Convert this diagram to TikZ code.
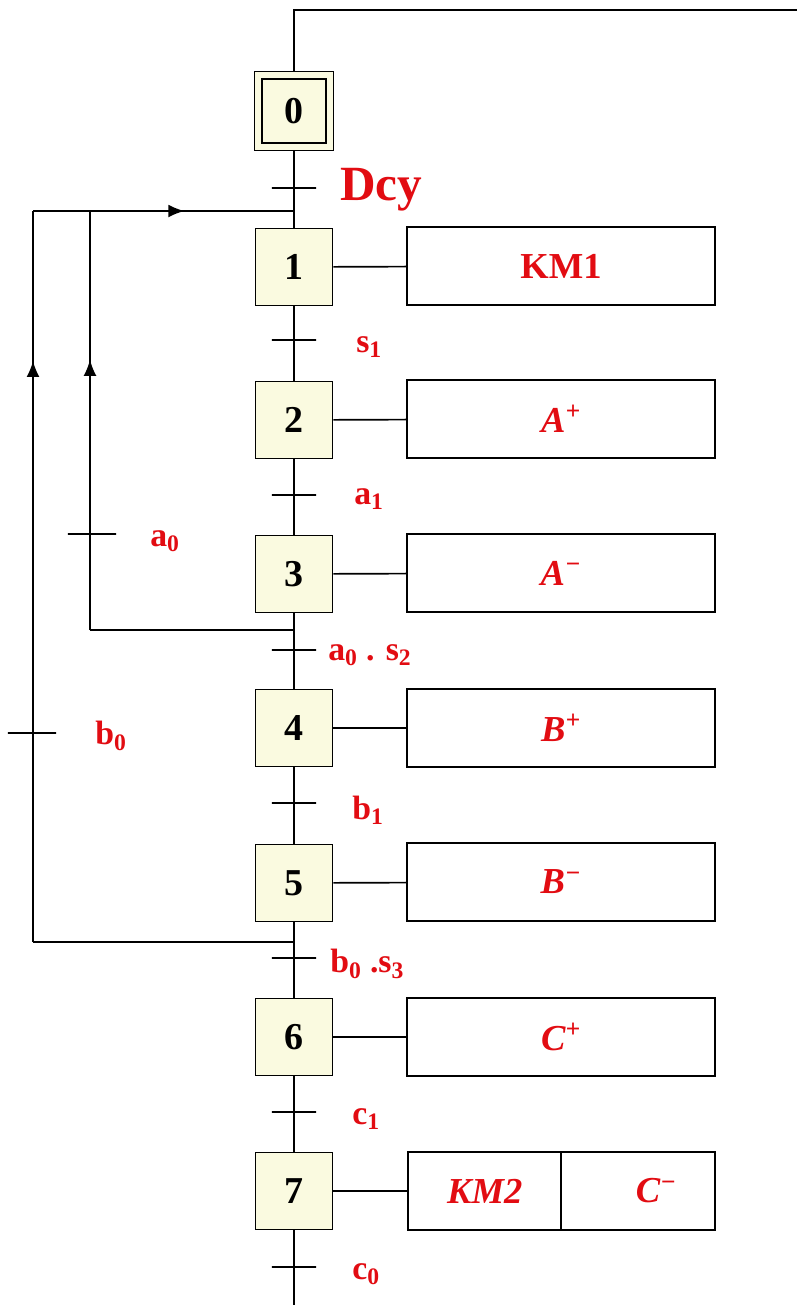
\documentclass[tikz,border=0pt]{standalone}
\usepackage{fontspec}
\setmainfont{Liberation Serif}
\usepackage{tikz}
\usetikzlibrary{decorations.markings}
\usetikzlibrary{arrows.meta}
\pgfdeclarelayer{fondo}
\pgfdeclarelayer{lineas_layer}
\pgfdeclarelayer{grafcet}
\pgfsetlayers{fondo,lineas_layer,grafcet,main}
\definecolor{rojo}{RGB}{226,12,18}
\definecolor{crema}{RGB}{250,250,224}
\tikzstyle{none}=[inner sep=0pt]
\tikzstyle{etapa}=[draw=black,fill=crema,line width=1.2pt,minimum size=1.925cm,inner sep=0pt,font=\fontsize{27}{27}\selectfont\bfseries]
\tikzstyle{etapa_inicial}=[etapa,minimum size=1.79cm,double=crema,double distance=0.145cm]
\tikzstyle{accion}=[draw=black,fill=white,line width=1.2pt,minimum width=7.7cm,minimum height=1.95cm,inner sep=0pt,text=rojo,font=\fontsize{26}{26}\selectfont\bfseries]
\tikzstyle{accion2}=[accion,minimum width=3.85cm]
\tikzstyle{receptividad}=[draw=black,line width=1.2pt,minimum width=1.1cm,minimum height=0pt,inner sep=0pt]
\tikzstyle{receptividad2}=[receptividad,minimum width=1.2cm]
\tikzstyle{condicion}=[text=rojo,inner sep=0pt,anchor=west,font=\fontsize{24}{24}\selectfont\bfseries]
\tikzstyle{line}=[draw,line width=1.2pt]
\tikzstyle{retorno}=[line,postaction={decorate},decoration={markings,mark=at position #1 with {\arrow{Latex[length=4mm,width=3.2mm]}}}]
\newcommand{\mas}{\textsuperscript{+}}
\newcommand{\menos}{\textsuperscript{\char"2212}}

\begin{document}
\begin{tikzpicture}[x=0.025cm,y=-0.025cm]
		\begin{pgfonlayer}{fondo}
			\fill [white] (0,0) rectangle (797,1305);
		\end{pgfonlayer}
		\useasboundingbox (0,0) rectangle (797,1305);
		\begin{pgfonlayer}{grafcet}
			\node [style=etapa_inicial] (e0) at (294,111) {0};
			\node [style=etapa] (e1) at (294,267) {1};
			\node [style=etapa] (e2) at (294,420) {2};
			\node [style=etapa] (e3) at (294,574) {3};
			\node [style=etapa] (e4) at (294,728) {4};
			\node [style=etapa] (e5) at (294,883) {5};
			\node [style=etapa] (e6) at (294,1037) {6};
			\node [style=etapa] (e7) at (294,1191) {7};
			\node [style=accion] (km1) at (561,266) {KM1};
			\node [style=accion] (amas) at (561,419) {\itshape A\mas};
			\node [style=accion] (amenos) at (561,573) {\itshape A\menos};
			\node [style=accion] (bmas) at (561,728) {\itshape B\mas};
			\node [style=accion] (bmenos) at (561,882) {\itshape B\menos};
			\node [style=accion] (cmas) at (561,1037) {\itshape C\mas};
			\node [style=accion2] (km2) at (484.75,1191) {\itshape KM2};
			\node [style=accion2] (cmenos) at (638.25,1191) {\hspace*{0.9cm}\itshape C\menos};
			\node [style=receptividad] (t0) at (294,188) {};
			\node [style=receptividad] (t1) at (294,340) {};
			\node [style=receptividad] (t2) at (294,495) {};
			\node [style=receptividad] (t3) at (294,650) {};
			\node [style=receptividad] (t4) at (294,803) {};
			\node [style=receptividad] (t5) at (294,958) {};
			\node [style=receptividad] (t6) at (294,1112) {};
			\node [style=receptividad] (t7) at (294,1267) {};
			\node [style=receptividad2] (ta0) at (92,534) {};
			\node [style=receptividad2] (tb0) at (32,733) {};
			\node [style=condicion] (dcy) at (340,190) {\fontsize{35}{35}\selectfont Dcy};
			\node [style=condicion] (s1) at (356,347) {s\textsubscript{1}};
			\node [style=condicion] (a1) at (354,499) {a\textsubscript{1}};
			\node [style=condicion] (a0s2) at (328,655) {a\textsubscript{0} . s\textsubscript{2}};
			\node [style=condicion] (b1) at (352,810) {b\textsubscript{1}};
			\node [style=condicion] (b0s3) at (330,964) {b\textsubscript{0} .s\textsubscript{3}};
			\node [style=condicion] (c1) at (352,1119) {c\textsubscript{1}};
			\node [style=condicion] (c0) at (352,1274) {c\textsubscript{0}};
			\node [style=condicion] (a0) at (150,541) {a\textsubscript{0}};
			\node [style=condicion] (b0) at (95,736) {b\textsubscript{0}};
		\end{pgfonlayer}
		\begin{pgfonlayer}{lineas_layer}
			\coordinate (arriba) at (294,10);
			\coordinate (esquina) at (797,10);
			\coordinate (abajo) at (294,1305);
			\coordinate (union1) at (294,211);
			\coordinate (salida3) at (294,630);
			\coordinate (salida5) at (294,942);
			\coordinate (izq3) at (90,630);
			\coordinate (izq3_arriba) at (90,211);
			\coordinate (izq5) at (33,942);
			\coordinate (izq5_arriba) at (33,211);
			\path [style=line] (esquina) -- (arriba) -- (e0);
			\path [style=line] (e0) -- (e1);
			\path [style=line] (e1) -- (e2);
			\path [style=line] (e2) -- (e3);
			\path [style=line] (e3) -- (e4);
			\path [style=line] (e4) -- (e5);
			\path [style=line] (e5) -- (e6);
			\path [style=line] (e6) -- (e7);
			\path [style=line] (e7) -- (abajo);
			\path [style=line] (e1) -- (km1);
			\path [style=line] (e2) -- (amas);
			\path [style=line] (e3) -- (amenos);
			\path [style=line] (e4) -- (bmas);
			\path [style=line] (e5) -- (bmenos);
			\path [style=line] (e6) -- (cmas);
			\path [style=line] (e7) -- (km2);
			\path [style=line] (salida3) -- (izq3);
			\path [retorno=0.645] (izq3) -- (izq3_arriba);
			\path [style=line] (salida5) -- (izq5);
			\path [retorno=0.795] (izq5) -- (izq5_arriba);
			\path [retorno=0.58] (izq5_arriba) -- (union1);
		\end{pgfonlayer}
\end{tikzpicture}
\end{document}
